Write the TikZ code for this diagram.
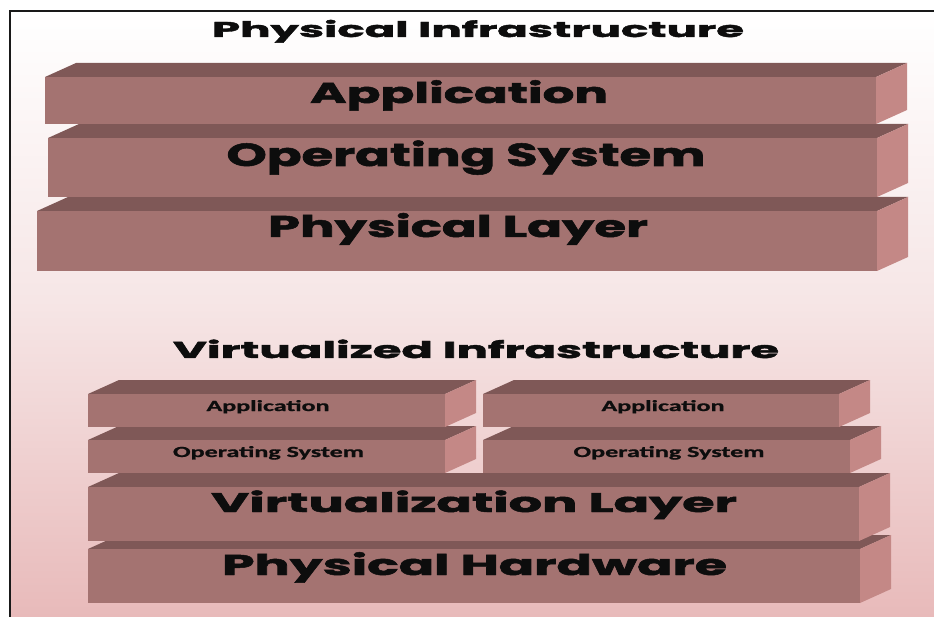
\documentclass[tikz,border=0pt]{standalone}
\usepackage{fontspec}
\usepackage{graphicx}
\newfontfamily\bigf{Poppins}[BoldFeatures={FakeBold=1.6}]
\newfontfamily\smf{Carlito}[BoldFeatures={FakeBold=0.8}]
\definecolor{frontc}{RGB}{164,115,113}
\definecolor{topc}{RGB}{127,88,87}
\definecolor{sidec}{RGB}{196,136,134}
\definecolor{bgbot}{RGB}{232,186,186}
\definecolor{bgmid}{RGB}{246,230,230}
\newcommand{\bigtxt}[3]{\resizebox{#1pt}{\height}{\bigf\bfseries\fontsize{#2}{#2}\selectfont #3}}
\newcommand{\smtxt}[3]{\resizebox{#1pt}{\height}{\smf\bfseries\fontsize{#2}{#2}\selectfont #3}}
% box: x1, x2, y1 (front top), y2 (front bottom)
\newcommand{\layerbox}[4]{%
  \fill[topc] (#1,#3) -- (#1+31,#3-14) -- (#2+31,#3-14) -- (#2,#3) -- cycle;
  \fill[sidec] (#2,#3) -- (#2+31,#3-14) -- (#2+31,#4-14) -- (#2,#4) -- cycle;
  \fill[frontc] (#1,#3) rectangle (#2,#4);
}
\tikzset{lbl/.style={anchor=base, inner sep=0pt, text=black!95}}
\begin{document}
\begin{tikzpicture}[x=1pt,y=-1pt]
\useasboundingbox (0,0) rectangle (934,617);
\fill[white] (0,0) rectangle (934,617);
\shade[top color=white, bottom color=bgmid] (10,11) rectangle (934,300);
\shade[top color=bgmid, bottom color=bgbot] (10,300) rectangle (934,617);
\draw[line width=1.4pt, black!90] (10,617) -- (10,11) -- (934,11);

% physical infrastructure
\node[lbl] (t1) at (478,37) {\bigtxt{532}{21.4}{Physical Infrastructure}};
\layerbox{37}{877}{211}{271}
\layerbox{48}{877}{138}{197}
\layerbox{45}{876}{77}{124}
\node[lbl] (pa) at (459,103) {\bigtxt{298}{28.6}{Application}};
\node[lbl] (po) at (466,166) {\bigtxt{479}{32}{Operating System}};
\node[lbl] (pl) at (458,237) {\bigtxt{380}{30}{Physical Layer}};

% virtualized infrastructure
\node[lbl] (t2) at (476,358) {\bigtxt{606}{23}{Virtualized Infrastructure}};
\layerbox{88}{860}{549}{603}
\layerbox{88}{859}{487}{541}
\layerbox{88}{445}{440}{473}
\layerbox{483}{850}{440}{473}
\layerbox{88}{445}{394}{427}
\layerbox{483}{839}{394}{427}
\node[lbl] (va1) at (268,411) {\smtxt{123}{15.5}{Application}};
\node[lbl] (va2) at (663,411) {\smtxt{123}{15.5}{Application}};
\node[lbl] (vo1) at (268.5,457) {\smtxt{191}{15.5}{Operating System}};
\node[lbl] (vo2) at (669,457) {\smtxt{191}{15.5}{Operating System}};
\node[lbl] (vl) at (474,512) {\bigtxt{526}{27}{Virtualization Layer}};
\node[lbl] (ph) at (474.5,575) {\bigtxt{505}{28.6}{Physical Hardware}};
\end{tikzpicture}
\end{document}
